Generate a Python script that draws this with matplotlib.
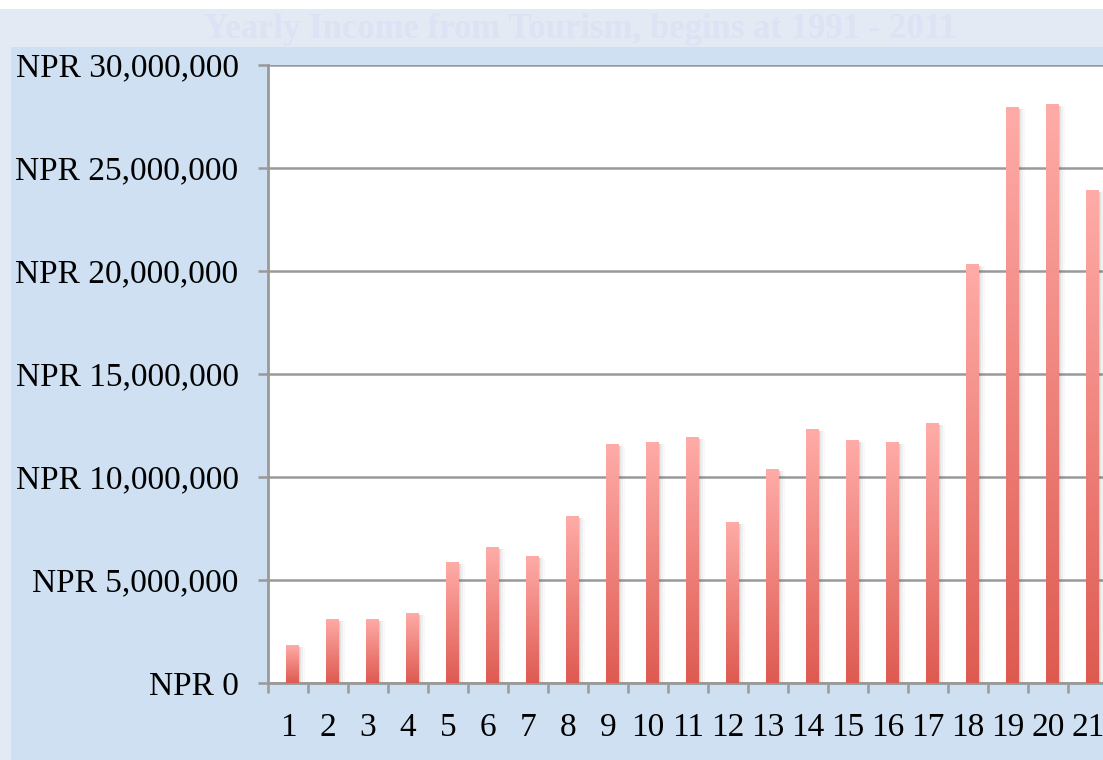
import numpy as np
import matplotlib
matplotlib.use("Agg")
import matplotlib.pyplot as plt
from matplotlib.colors import LinearSegmentedColormap
from matplotlib.patches import Rectangle
from matplotlib.ticker import FuncFormatter, MultipleLocator, FixedLocator

# ---- data ----
categories = [str(i) for i in range(1, 22)]
income = [1.84e6, 3.11e6, 3.11e6, 3.40e6, 5.87e6, 6.60e6, 6.17e6, 8.11e6,
          11.60e6, 11.70e6, 11.94e6, 7.82e6, 10.39e6, 12.33e6, 11.80e6,
          11.70e6, 12.62e6, 20.34e6, 27.96e6, 28.10e6, 23.93e6]
title = "Yearly Income from Tourism, begins at 1991 - 2011"

W, H = 1103, 760
fig = plt.figure(figsize=(W / 100, H / 100), dpi=100)
fig.patch.set_facecolor("white")

# background panels
fig.add_artist(Rectangle((0, 0), 1, (H - 9) / H, transform=fig.transFigure,
                         facecolor="#e3eaf3", edgecolor="none", zorder=-3))
fig.add_artist(Rectangle((11 / W, 0), 1, (H - 47) / H, transform=fig.transFigure,
                         facecolor="#cfe0f2", edgecolor="none", zorder=-2))

left, right, top, bottom = 268, 1108, 65, 683
ax = fig.add_axes([left / W, (H - bottom) / H, (right - left) / W, (bottom - top) / H])
ax.set_facecolor("white")

cmap = LinearSegmentedColormap.from_list("g", ["#de5a50", "#ffaca8"])
grad = np.linspace(0, 1, 256).reshape(-1, 1)

x = np.arange(1, len(categories) + 1)
bw = 0.31
off = 0.1
for xi, v in zip(x, income):
    x0 = xi + off - bw / 2
    # soft shadow on the right
    for k, a in [(0.04, 0.12), (0.08, 0.08), (0.12, 0.05), (0.16, 0.03)]:
        ax.add_patch(Rectangle((x0 + k, 0), bw, v - 0.1e6, facecolor="#555555",
                               edgecolor="none", alpha=a, zorder=2))
    bar = ax.bar(xi + off, v, width=bw, facecolor="none", edgecolor="none", zorder=3)[0]
    im = ax.imshow(grad, cmap=cmap, aspect="auto", origin="lower",
                   extent=[x0, x0 + bw, 0, v], zorder=3, interpolation="bilinear")
    im.set_clip_path(bar)

ax.set_xlim(0.5, len(categories) + 0.5)
ax.set_ylim(0, 30e6)

# grid
ax.yaxis.set_major_locator(MultipleLocator(5e6))
ax.grid(axis="y", color="#999999", linewidth=1.8, zorder=1)
ax.set_axisbelow(True)

for s in ["top", "right"]:
    ax.spines[s].set_visible(False)
for s in ["left", "bottom"]:
    ax.spines[s].set_color("#999999")
    ax.spines[s].set_linewidth(2)

font = ["Liberation Serif", "DejaVu Serif"]
ax.yaxis.set_major_formatter(FuncFormatter(lambda v, p: "NPR {:,.0f}".format(v)))
ax.tick_params(axis="y", length=7.2, width=1.8, color="#999999", pad=14,
               labelsize=24, labelcolor="black")
ax.set_xticks(x)
ax.set_xticklabels(categories)
ax.xaxis.set_minor_locator(FixedLocator(np.arange(0.5, len(categories) + 1, 1)))
ax.tick_params(axis="x", which="major", length=0, pad=21, labelsize=24)
ax.tick_params(axis="x", which="minor", length=7.2, width=1.8, color="#999999")
for lab in ax.get_xticklabels() + ax.get_yticklabels():
    lab.set_family(font)

fig.text(580 / W, (H - 29) / H, title, ha="center", va="center", fontsize=25,
         fontweight="bold", color="#dde2f5", family=font)

fig.savefig("out.png", dpi=100, facecolor=fig.get_facecolor())
